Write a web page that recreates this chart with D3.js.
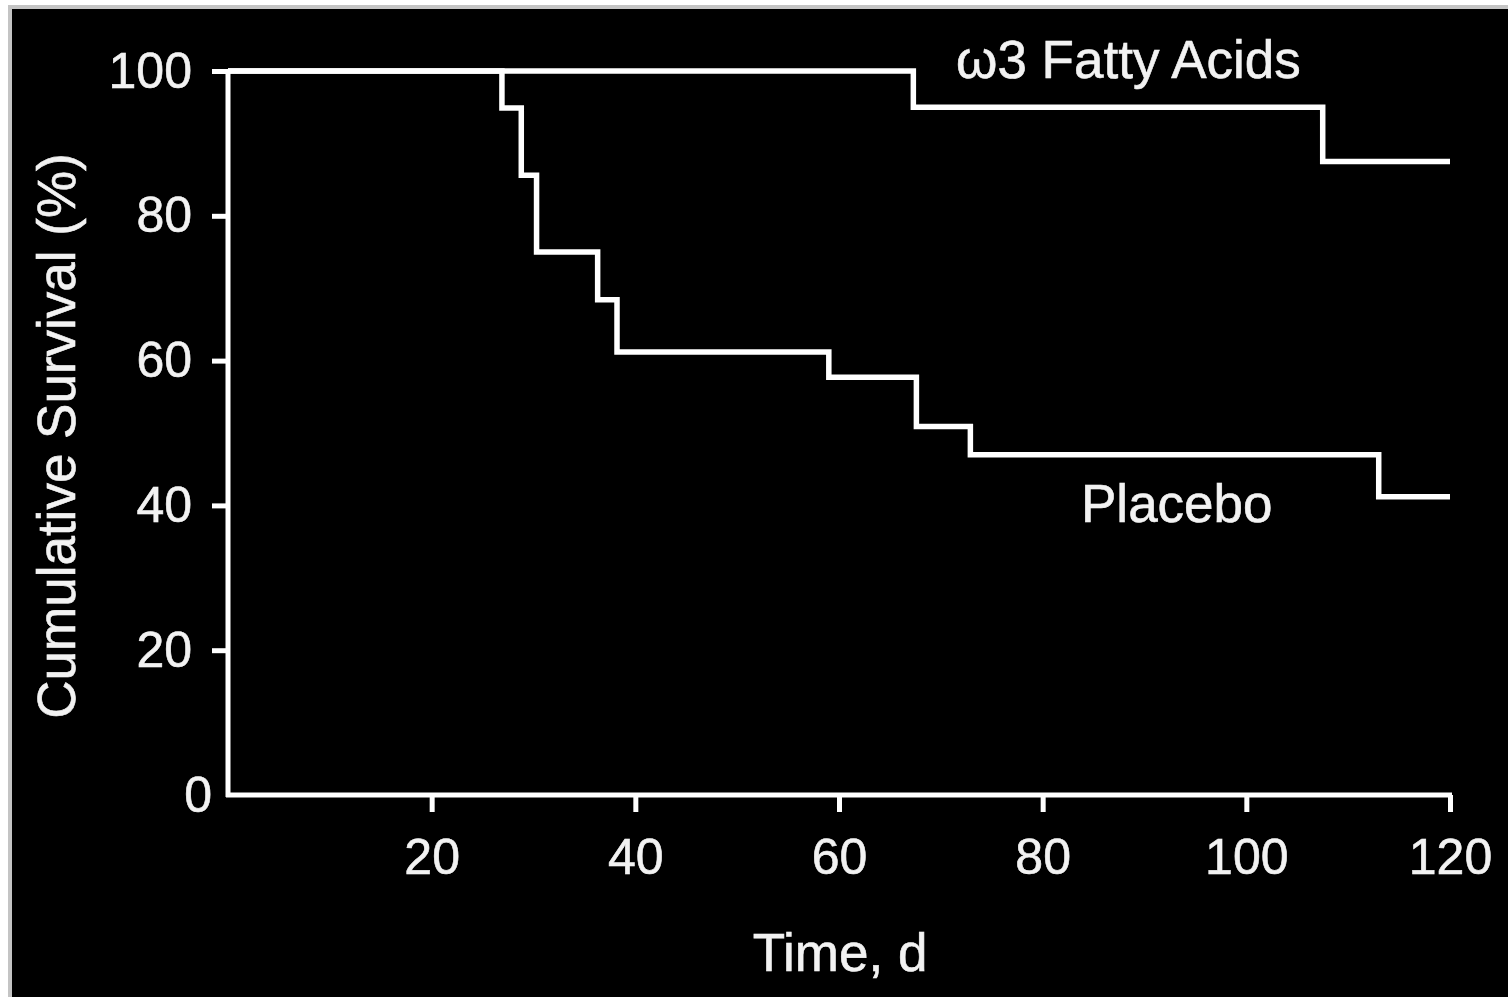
<!DOCTYPE html>
<html>
<head>
<meta charset="utf-8">
<script src="https://cdn.jsdelivr.net/npm/d3@7"></script>
<style>
  body { margin: 0; background: #fff; }
  text { font-family: "Liberation Sans", Arial, Helvetica, sans-serif; fill: #f2f2f2; stroke: #f2f2f2; stroke-width: 0.6px; }
</style>
</head>
<body>
<svg id="chart" width="1508" height="997"></svg>
<script>
// survival data (time in days, survival in %)
const omegaTimes = [0, 67.3, 107.5, 120]
const omegaSurv = [100, 95, 87.5, 87.5]
const placeboTimes = [0, 26.9, 28.8, 30.3, 36.3, 38.2, 59.0, 67.6, 72.9, 113.0, 120]
const placeboSurv = [100, 94.9, 85.6, 75.0, 68.4, 61.2, 57.7, 50.9, 47.0, 41.2, 41.2]
const xTicks = [20, 40, 60, 80, 100, 120]
const yTicks = [0, 20, 40, 60, 80, 100]

const svg = d3.select('#chart')

// frame
svg.append('rect').attr('x', 8).attr('y', 5).attr('width', 1500).attr('height', 992).attr('fill', '#c4c4c4')
svg.append('rect').attr('x', 12).attr('y', 9).attr('width', 1496).attr('height', 988).attr('fill', '#000')

const x = d3.scaleLinear().domain([0, 120]).range([228, 1450])
const y = d3.scaleLinear().domain([0, 100]).range([795, 71])

// x axis
const xAxis = svg.append('g')
  .attr('transform', `translate(0,${y(0)})`)
  .call(d3.axisBottom(x).tickValues(xTicks).tickSize(17).tickPadding(26).tickSizeOuter(0))
xAxis.select('.domain').attr('stroke', '#fff').attr('stroke-width', 5)
  .attr('d', `M${x(0) - 2},0H${x(120) + 2}`)
xAxis.selectAll('.tick line').attr('stroke', '#fff').attr('stroke-width', 5)
xAxis.selectAll('.tick text').attr('font-size', 50).style('font-family', '"Liberation Sans", Arial, sans-serif').attr('fill', '#f2f2f2')

// y axis
const yAxis = svg.append('g')
  .attr('transform', `translate(${x(0)},0)`)
  .call(d3.axisLeft(y).tickValues(yTicks).tickSize(16).tickPadding(20).tickSizeOuter(0))
yAxis.select('.domain').attr('stroke', '#fff').attr('stroke-width', 5)
  .attr('d', `M0,${y(0) + 2}V${y(100) - 2}`)
yAxis.selectAll('.tick line').attr('stroke', '#fff').attr('stroke-width', 5)
yAxis.selectAll('.tick text').attr('font-size', 50).style('font-family', '"Liberation Sans", Arial, sans-serif').attr('fill', '#f2f2f2')
// no tick at zero, label sits closer
yAxis.selectAll('.tick').filter(d => d === 0).each(function() {
  d3.select(this).select('line').remove()
  d3.select(this).select('text').attr('x', -16)
})

// survival curves
const line = d3.line().curve(d3.curveStepAfter).x(d => x(d[0])).y(d => y(d[1]))
const series = [
  d3.zip(omegaTimes, omegaSurv),
  d3.zip(placeboTimes, placeboSurv)
]
svg.selectAll('path.curve')
  .data(series)
  .join('path')
  .attr('class', 'curve')
  .attr('fill', 'none')
  .attr('stroke', '#fff')
  .attr('stroke-width', 5.5)
  .attr('stroke-linejoin', 'miter')
  .attr('d', line)

// labels
svg.append('text').attr('x', 956).attr('y', 78).attr('font-size', 53).text('ω3 Fatty Acids')
svg.append('text').attr('x', 1081).attr('y', 522).attr('font-size', 53).text('Placebo')
svg.append('text').attr('x', 840).attr('y', 971).attr('text-anchor', 'middle').attr('font-size', 53).text('Time, d')
svg.append('text')
  .attr('transform', 'translate(75,436) rotate(-90)')
  .attr('text-anchor', 'middle')
  .attr('font-size', 53)
  .text('Cumulative Survival (%)')
</script>
</body>
</html>
